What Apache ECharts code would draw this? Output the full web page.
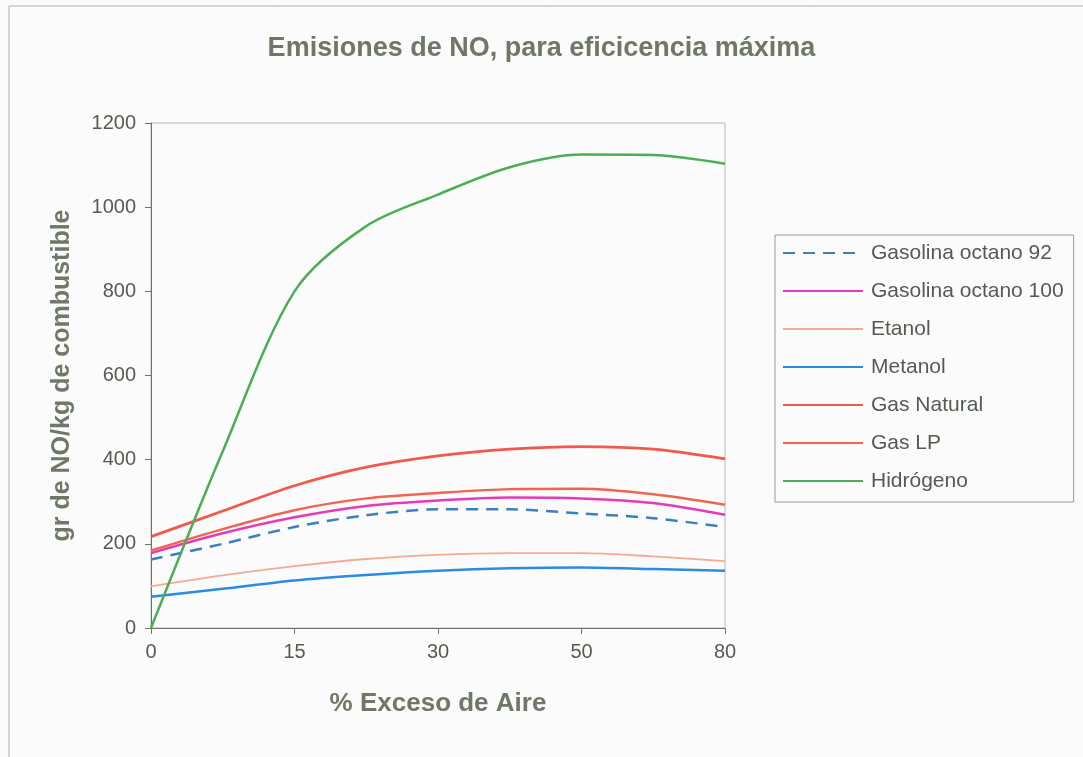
<!DOCTYPE html>
<html>
<head>
<meta charset="utf-8">
<script src="https://cdn.jsdelivr.net/npm/echarts@6/dist/echarts.min.js"></script>
<style>
  html, body { margin: 0; padding: 0; background: #fbfbfb; }
  #chart { width: 1083px; height: 757px; }
</style>
</head>
<body>
<div id="chart"></div>
<script>
// % excess air (labels shown on every other category)
const excesoAire = ['0', '7.5', '15', '22.5', '30', '40', '50', '65', '80'];

// NO emissions, g NO / kg fuel
const gasolina92  = [163, 200, 240, 268, 282, 282, 272, 261, 240];
const gasolina100 = [178, 225, 263, 290, 303, 310, 308, 297, 269];
const etanol      = [99, 125, 147, 164, 174, 178, 178, 170, 159];
const metanol     = [74, 93, 113, 126, 136, 142, 144, 140, 136];
const gasNatural  = [217, 278, 338, 382, 409, 425, 431, 425, 402];
const gasLP       = [184, 235, 280, 308, 321, 330, 331, 318, 293];
const hidrogeno   = [0, 420, 800, 955, 1030, 1095, 1125, 1124, 1103];

const seriesDefs = [
  { name: 'Gasolina octano 92',  data: gasolina92,  color: '#3b7fc0', width: 2.5, type: [12, 8] },
  { name: 'Gasolina octano 100', data: gasolina100, color: '#e63bb8', width: 2.5 },
  { name: 'Etanol',              data: etanol,      color: '#f7a995', width: 1.8 },
  { name: 'Metanol',             data: metanol,     color: '#2a8be0', width: 2.5 },
  { name: 'Gas Natural',         data: gasNatural,  color: '#f2584c', width: 2.8 },
  { name: 'Gas LP',              data: gasLP,       color: '#ef6552', width: 2.5 },
  { name: 'Hidrógeno',           data: hidrogeno,   color: '#4aae55', width: 2.5 }
];

const labelColor = '#555a55';
const titleColor = '#6f7868';
const font = 'Liberation Sans, Arial, sans-serif';

const chart = echarts.init(document.getElementById('chart'), null, { renderer: 'canvas' });

chart.setOption({
  backgroundColor: '#fbfbfb',
  animation: false,
  title: {
    text: 'Emisiones de NO, para eficicencia máxima',
    left: 'center',
    top: 30,
    textStyle: { color: titleColor, fontFamily: font, fontSize: 27, fontWeight: 'bold' }
  },
  grid: {
    left: 151, right: 358, top: 123, bottom: 129,
    show: true, borderColor: '#b8b8b8', borderWidth: 1, backgroundColor: 'transparent'
  },
  legend: {
    orient: 'vertical',
    left: 775, top: 235,
    padding: [6, 10, 9, 7],
    itemWidth: 80, itemHeight: 14, itemGap: 14,
    borderColor: '#9a9a9a', borderWidth: 1,
    itemStyle: { opacity: 0 },
    textStyle: { color: labelColor, fontFamily: font, fontSize: 21, lineHeight: 24, padding: [0, 0, 0, 3] },
    data: seriesDefs.map(s => s.name)
  },
  xAxis: {
    type: 'category',
    data: excesoAire,
    boundaryGap: false,
    name: '% Exceso de Aire',
    nameLocation: 'middle',
    nameGap: 63,
    nameTextStyle: { color: titleColor, fontFamily: font, fontSize: 26, fontWeight: 'bold' },
    axisLine: { lineStyle: { color: '#707070', width: 1 } },
    axisTick: { interval: 1, length: 6, lineStyle: { color: '#707070' } },
    axisLabel: { interval: 1, color: labelColor, fontFamily: font, fontSize: 20, margin: 14 },
    splitLine: { show: false }
  },
  yAxis: {
    type: 'value',
    min: 0, max: 1200, interval: 200,
    name: 'gr de NO/kg de combustible',
    nameLocation: 'middle',
    nameGap: 76,
    nameTextStyle: { color: titleColor, fontFamily: font, fontSize: 25, fontWeight: 'bold' },
    axisLine: { show: true, lineStyle: { color: '#707070', width: 1 } },
    axisTick: { show: true, length: 6, lineStyle: { color: '#707070' } },
    axisLabel: { color: labelColor, fontFamily: font, fontSize: 20, margin: 15, formatter: v => String(v) },
    splitLine: { show: false }
  },
  graphic: [{
    type: 'rect',
    shape: { x: 9, y: 6, width: 1090, height: 760 },
    style: { fill: 'none', stroke: '#b0b0b0', lineWidth: 1 },
    silent: true
  }],
  series: seriesDefs.map(s => ({
    name: s.name,
    type: 'line',
    data: s.data,
    smooth: 0.3,
    symbol: 'none',
    color: s.color,
    lineStyle: { color: s.color, width: s.width, type: s.type || 'solid' }
  }))
});
</script>
</body>
</html>
